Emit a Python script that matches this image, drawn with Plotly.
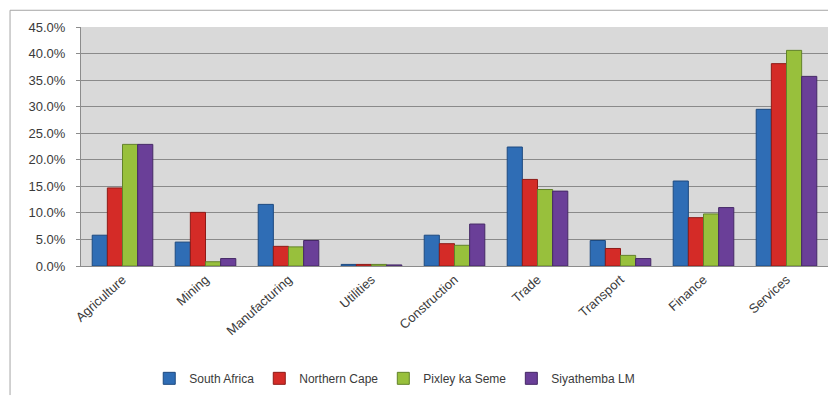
import plotly.graph_objects as go

sectors = ["Agriculture", "Mining", "Manufacturing", "Utilities", "Construction",
           "Trade", "Transport", "Finance", "Services"]

south_africa = [5.8, 4.5, 11.6, 0.3, 5.8, 22.4, 4.8, 16.0, 29.5]
northern_cape = [14.7, 10.1, 3.7, 0.3, 4.2, 16.3, 3.3, 9.1, 38.1]
pixley_ka_seme = [22.9, 0.8, 3.6, 0.3, 3.9, 14.4, 2.0, 9.8, 40.6]
siyathemba = [22.9, 1.4, 4.8, 0.2, 7.9, 14.1, 1.4, 11.0, 35.7]

y_ticks = [0, 5, 10, 15, 20, 25, 30, 35, 40, 45]
y_tick_text = ["0.0%", "5.0%", "10.0%", "15.0%", "20.0%", "25.0%",
               "30.0%", "35.0%", "40.0%", "45.0%"]

series = [
    ("South Africa", south_africa, "#2f6db5", "#1d4a80"),
    ("Northern Cape", northern_cape, "#d42b27", "#8e1a17"),
    ("Pixley ka Seme", pixley_ka_seme, "#98c03c", "#62822a"),
    ("Siyathemba LM", siyathemba, "#6a3f98", "#452866"),
]

fig = go.Figure()
for name, values, fill, edge in series:
    fig.add_trace(go.Bar(
        name=name, x=sectors, y=values,
        marker=dict(color=fill, line=dict(color=edge, width=1)),
    ))

font_family = "Liberation Sans, Arial, sans-serif"
text_color = "#3a3a3a"

fig.update_layout(
    width=835, height=400,
    margin=dict(l=81, r=7, t=27, b=131),
    paper_bgcolor="white",
    plot_bgcolor="#d9d9d9",
    barmode="group",
    bargap=0.27,
    bargroupgap=0.0,
    font=dict(family=font_family, size=12, color=text_color),
    showlegend=True,
    legend=dict(
        orientation="h", x=0.42, xanchor="center", y=-0.47, yanchor="middle",
        font=dict(size=12, color=text_color),
        itemwidth=30, traceorder="normal",
        bgcolor="rgba(0,0,0,0)",
    ),
    xaxis=dict(
        tickangle=-42, showgrid=False,
        showline=True, linecolor="#8c8c8c", linewidth=1,
        ticks="", tickfont=dict(size=13, color=text_color),
    ),
    yaxis=dict(
        range=[0, 45], tickvals=y_ticks, ticktext=y_tick_text,
        showgrid=True, gridcolor="#8a8a8a", gridwidth=1,
        showline=True, linecolor="#8c8c8c", linewidth=1,
        ticks="outside", ticklen=4, tickcolor="#8c8c8c",
        ticklabelstandoff=8,
        tickfont=dict(size=13, color=text_color),
        zeroline=False,
    ),
    shapes=[
        # outer chart frame: top and left edges
        dict(type="line", xref="paper", yref="paper",
             x0=-0.095, x1=1.0, y0=1.07, y1=1.07,
             line=dict(color="#a6a6a6", width=1)),
        dict(type="line", xref="paper", yref="paper",
             x0=-0.095, x1=-0.095, y0=1.07, y1=-0.54,
             line=dict(color="#a6a6a6", width=1)),
    ],
)

fig.write_html("out.html")
